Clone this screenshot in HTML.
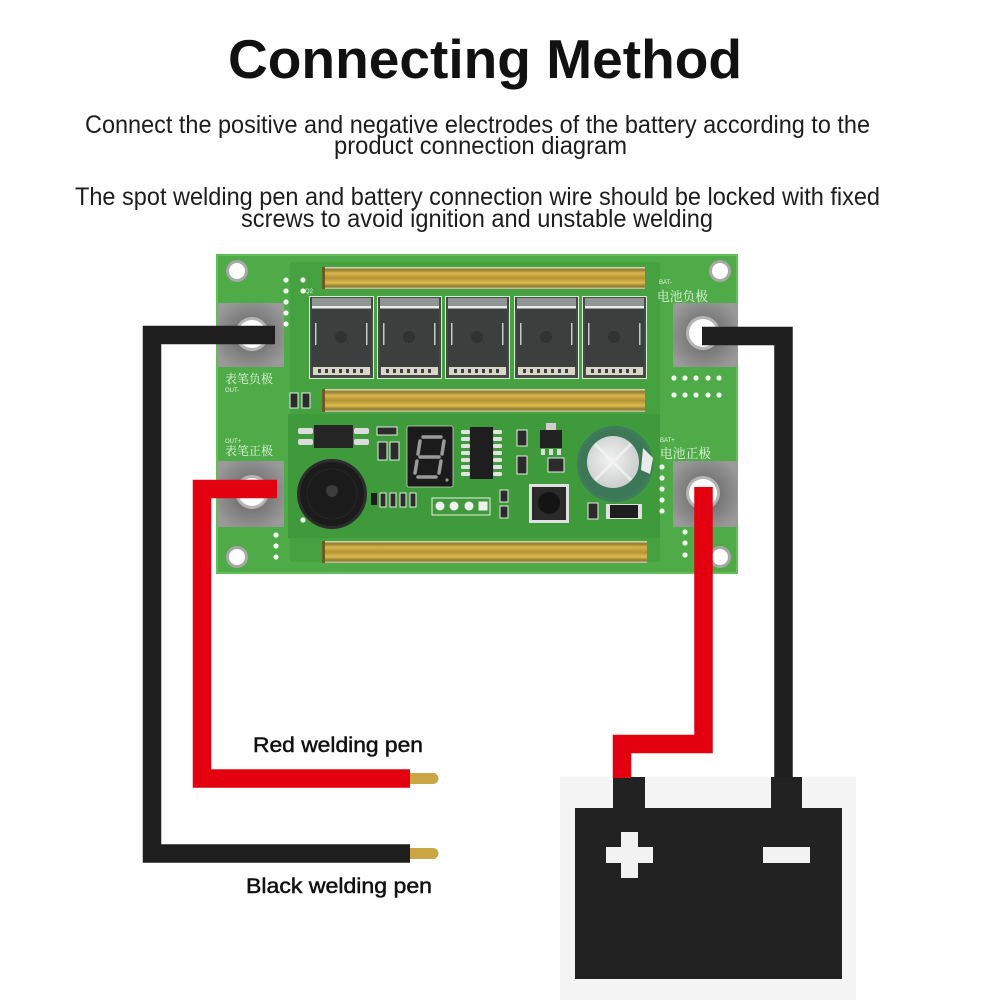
<!DOCTYPE html>
<html><head><meta charset="utf-8"><style>
html,body{margin:0;padding:0;background:#fff;}
svg{display:block;}
</style></head><body>
<svg width="1000" height="1000" viewBox="0 0 1000 1000" xmlns="http://www.w3.org/2000/svg">
<defs>
<linearGradient id="gold" x1="0" y1="0" x2="0" y2="1">
<stop offset="0" stop-color="#e9e4c6"/>
<stop offset="0.12" stop-color="#8e7a2e"/>
<stop offset="0.28" stop-color="#d8b64c"/>
<stop offset="0.5" stop-color="#b39334"/>
<stop offset="0.72" stop-color="#dcbb50"/>
<stop offset="0.88" stop-color="#8f7a2c"/>
<stop offset="1" stop-color="#cfcab0"/>
</linearGradient>
<radialGradient id="pad" cx="0.5" cy="0.5" r="0.6">
<stop offset="0" stop-color="#5a5a5a"/>
<stop offset="0.45" stop-color="#7a7a7a"/>
<stop offset="1" stop-color="#9a9a9a"/>
</radialGradient>
<radialGradient id="silver" cx="0.45" cy="0.45" r="0.6">
<stop offset="0" stop-color="#f2f2f2"/>
<stop offset="1" stop-color="#c9cbcb"/>
</radialGradient>
</defs>
<rect width="1000" height="1000" fill="#fff"/>

<!-- Title & text -->
<text x="228" y="78" font-family="Liberation Sans, sans-serif" font-weight="bold" font-size="55" textLength="514" lengthAdjust="spacingAndGlyphs" fill="#111">Connecting Method</text>
<g font-family="Liberation Sans, sans-serif" font-size="25" fill="#1d1d1d">
<text x="85" y="133" textLength="785" lengthAdjust="spacingAndGlyphs">Connect the positive and negative electrodes of the battery according to the</text>
<text x="334" y="154" textLength="293" lengthAdjust="spacingAndGlyphs">product connection diagram</text>
<text x="75" y="205" textLength="805" lengthAdjust="spacingAndGlyphs">The spot welding pen and battery connection wire should be locked with fixed</text>
<text x="241" y="227" textLength="472" lengthAdjust="spacingAndGlyphs">screws to avoid ignition and unstable welding</text>
</g>

<!-- Board -->
<rect x="217" y="255" width="520" height="318" fill="#4fab48"/>
<rect x="290" y="262" width="370" height="300" fill="#46a140"/>
<rect x="288" y="414" width="372" height="124" fill="#3f9a3b"/>
<rect x="217" y="255" width="520" height="318" fill="none" stroke="#63bd58" stroke-width="2"/>

<!-- corner holes -->
<g>
<circle cx="237" cy="271" r="11" fill="#a8a8a8"/><circle cx="237" cy="271" r="8" fill="#fff"/>
<circle cx="720" cy="271" r="11" fill="#a8a8a8"/><circle cx="720" cy="271" r="8" fill="#fff"/>
<circle cx="237" cy="557" r="11" fill="#a8a8a8"/><circle cx="237" cy="557" r="8" fill="#fff"/>
<circle cx="720" cy="557" r="11" fill="#a8a8a8"/><circle cx="720" cy="557" r="8" fill="#fff"/>
</g>

<!-- gold bars -->
<rect x="322" y="267" width="323" height="22" fill="url(#gold)"/>
<rect x="322" y="389" width="323" height="23" fill="url(#gold)"/>
<rect x="322" y="541" width="325" height="22" fill="url(#gold)"/>
<rect x="322" y="267" width="3" height="22" fill="#6a5c22"/>
<rect x="322" y="389" width="3" height="23" fill="#6a5c22"/>
<rect x="322" y="541" width="3" height="22" fill="#6a5c22"/>

<!-- MOSFETs -->
<g id="mos">
<g transform="translate(309,0)">
<rect x="0.5" y="296.5" width="64" height="82" fill="#454a47" stroke="#d8efd6" stroke-width="1"/>
<rect x="3" y="298" width="59" height="11" fill="#8f9592"/>
<rect x="3" y="306" width="59" height="2" fill="#ececec"/>
<rect x="3" y="309" width="59" height="58" fill="#3b3f3e"/>
<rect x="6" y="323" width="1.5" height="22" fill="#c8c8c8"/>
<rect x="57" y="323" width="1.5" height="22" fill="#c8c8c8"/>
<circle cx="32" cy="337" r="6" fill="#2f3332"/>
<rect x="4" y="367" width="57" height="8" fill="#d9d6c8"/>
<g fill="#3b3f3e"><rect x="9" y="369" width="3" height="4"/><rect x="16" y="369" width="3" height="4"/><rect x="23" y="369" width="3" height="4"/><rect x="30" y="369" width="3" height="4"/><rect x="37" y="369" width="3" height="4"/><rect x="44" y="369" width="3" height="4"/><rect x="51" y="369" width="3" height="4"/></g>
</g>
</g>
<use href="#mos" transform="translate(68,0)"/>
<use href="#mos" transform="translate(136,0)"/>
<use href="#mos" transform="translate(205,0)"/>
<use href="#mos" transform="translate(273,0)"/>

<!-- pads -->
<rect x="218" y="303" width="66" height="64" fill="url(#pad)"/>
<rect x="218" y="461" width="66" height="66" fill="url(#pad)"/>
<rect x="673" y="303" width="64" height="64" fill="url(#pad)"/>
<rect x="673" y="461" width="64" height="66" fill="url(#pad)"/>
<circle cx="252" cy="334" r="17" fill="#b5b5b5"/><circle cx="252" cy="334" r="14" fill="#fff"/>
<circle cx="252" cy="492" r="17" fill="#b5b5b5"/><circle cx="252" cy="492" r="14" fill="#fff"/>
<circle cx="703" cy="333" r="17" fill="#b5b5b5"/><circle cx="703" cy="333" r="14" fill="#fff"/>
<circle cx="703" cy="493" r="17" fill="#b5b5b5"/><circle cx="703" cy="493" r="14" fill="#fff"/>

<!-- labels -->
<g font-family="Liberation Serif, 'Noto Serif CJK SC', 'Noto Sans CJK SC', serif" fill="#e4f4de">
<text x="225" y="383" font-size="12" textLength="48" lengthAdjust="spacingAndGlyphs">表笔负极</text>
<text x="225" y="455" font-size="12" textLength="48" lengthAdjust="spacingAndGlyphs">表笔正极</text>
<text x="657" y="301" font-size="13" textLength="51" lengthAdjust="spacingAndGlyphs">电池负极</text>
<text x="660" y="458" font-size="13" textLength="51" lengthAdjust="spacingAndGlyphs">电池正极</text>
</g>
<g font-family="Liberation Sans, sans-serif" font-size="6" fill="#e4f4de">
<text x="225" y="392">OUT-</text>
<text x="225" y="443">OUT+</text>
<text x="659" y="284">BAT-</text>
<text x="660" y="442">BAT+</text>
<text x="305" y="293">Q2</text>
</g>

<!-- white dots -->
<g fill="#f4f8f2">
<circle cx="286" cy="280" r="2.6"/><circle cx="286" cy="291" r="2.6"/><circle cx="286" cy="302" r="2.6"/><circle cx="286" cy="313" r="2.6"/><circle cx="286" cy="324" r="2.6"/>
<circle cx="303" cy="280" r="2.6"/><circle cx="303" cy="291" r="2.6"/>
<circle cx="674" cy="378" r="2.6"/><circle cx="685" cy="378" r="2.6"/><circle cx="696" cy="378" r="2.6"/><circle cx="708" cy="378" r="2.6"/><circle cx="719" cy="378" r="2.6"/>
<circle cx="674" cy="395" r="2.6"/><circle cx="685" cy="395" r="2.6"/><circle cx="696" cy="395" r="2.6"/><circle cx="708" cy="395" r="2.6"/><circle cx="719" cy="395" r="2.6"/>
<circle cx="662" cy="467" r="2.6"/><circle cx="662" cy="478" r="2.6"/><circle cx="662" cy="489" r="2.6"/><circle cx="662" cy="500" r="2.6"/><circle cx="662" cy="511" r="2.6"/>
<circle cx="685" cy="532" r="2.6"/><circle cx="685" cy="543" r="2.6"/><circle cx="685" cy="555" r="2.6"/>
<circle cx="276" cy="535" r="2.6"/><circle cx="276" cy="546" r="2.6"/><circle cx="276" cy="557" r="2.6"/>
<circle cx="303" cy="520" r="2.6"/>
</g>

<!-- small SMD parts -->
<g fill="#2b2b2b" stroke="#e6efe4" stroke-width="1">
<rect x="290" y="393" width="8" height="15"/><rect x="302" y="393" width="8" height="15"/>
<rect x="377" y="427" width="20" height="8"/>
<rect x="378" y="442" width="9" height="18"/><rect x="390" y="442" width="9" height="18"/>
<rect x="517" y="430" width="10" height="16"/>
<rect x="517" y="456" width="10" height="18"/><rect x="548" y="458" width="16" height="14"/>
<rect x="588" y="503" width="10" height="16"/>
<rect x="500" y="490" width="8" height="12"/><rect x="500" y="506" width="8" height="12"/>
<rect x="380" y="493" width="6" height="14"/><rect x="390" y="493" width="6" height="14"/><rect x="400" y="493" width="6" height="14"/><rect x="410" y="493" width="6" height="14"/>
</g>
<rect x="371" y="493" width="6" height="12" fill="#1c1c1c"/>

<!-- optocoupler -->
<g fill="#dcdcdc">
<rect x="298" y="428" width="15" height="6" rx="2"/><rect x="298" y="439" width="15" height="6" rx="2"/>
<rect x="354" y="428" width="15" height="6" rx="2"/><rect x="354" y="439" width="15" height="6" rx="2"/>
</g>
<rect x="314" y="425" width="39" height="23" fill="#262626"/>

<!-- buzzer -->
<circle cx="332" cy="494" r="35" fill="#2c2c2c"/>
<circle cx="332" cy="494" r="32" fill="#1b1b1b"/>
<circle cx="332" cy="494" r="25" fill="none" stroke="#262626" stroke-width="1"/>
<circle cx="332" cy="491" r="6" fill="#3c3c3c"/>

<!-- 7 segment -->
<rect x="407" y="426" width="46" height="61" rx="2" fill="#1b1b1b" stroke="#c9d9c6" stroke-width="0.8"/>
<g stroke="#9a9a9a" stroke-width="3.5" stroke-linecap="round" fill="none">
<path d="M423 437 L441 437"/>
<path d="M420 441 L418 454"/>
<path d="M444 441 L442 454"/>
<path d="M420 457 L439 457"/>
<path d="M417 461 L415 473"/>
<path d="M441 461 L439 473"/>
<path d="M418 477 L436 477"/>
</g>
<circle cx="447" cy="480" r="1.6" fill="#9a9a9a"/>

<!-- U2 IC -->
<g fill="#e2e2e2">
<rect x="461" y="430" width="9" height="4" rx="1.5"/><rect x="461" y="437" width="9" height="4" rx="1.5"/><rect x="461" y="444" width="9" height="4" rx="1.5"/><rect x="461" y="451" width="9" height="4" rx="1.5"/><rect x="461" y="458" width="9" height="4" rx="1.5"/><rect x="461" y="465" width="9" height="4" rx="1.5"/><rect x="461" y="472" width="9" height="4" rx="1.5"/>
<rect x="493" y="430" width="9" height="4" rx="1.5"/><rect x="493" y="437" width="9" height="4" rx="1.5"/><rect x="493" y="444" width="9" height="4" rx="1.5"/><rect x="493" y="451" width="9" height="4" rx="1.5"/><rect x="493" y="458" width="9" height="4" rx="1.5"/><rect x="493" y="465" width="9" height="4" rx="1.5"/><rect x="493" y="472" width="9" height="4" rx="1.5"/>
</g>
<rect x="470" y="427" width="23" height="52" fill="#1e1e1e"/>

<!-- header -->
<rect x="432" y="498" width="58" height="17" fill="none" stroke="#e8f0e6" stroke-width="1"/>
<g fill="#f0f0f0"><circle cx="440" cy="506" r="4.5"/><circle cx="454" cy="506" r="4.5"/><circle cx="469" cy="506" r="4.5"/><rect x="478.5" y="501.5" width="9" height="9"/></g>

<!-- transistor -->
<rect x="546" y="423" width="10" height="7" fill="#cfcfcf"/>
<rect x="540" y="430" width="22" height="18" fill="#222"/>
<g fill="#dcdcdc"><rect x="541" y="449" width="4" height="6"/><rect x="549" y="449" width="4" height="6"/><rect x="557" y="449" width="4" height="6"/></g>

<!-- button -->
<rect x="529" y="484" width="40" height="39" fill="#e0e0e0"/>
<rect x="532" y="487" width="34" height="33" fill="#2a2a2a"/>
<circle cx="549" cy="503" r="11" fill="#141414"/>

<!-- capacitor -->
<circle cx="615" cy="464" r="38" fill="#3f7c5d"/>
<circle cx="615" cy="464" r="35" fill="#3c7758"/>
<circle cx="613" cy="462" r="26" fill="url(#silver)"/>
<path d="M595 444 L631 480 M631 444 L595 480" stroke="#f6f6f6" stroke-width="3" opacity="0.7"/>
<path d="M643 448 L653 458 L650 474 L641 470 Z" fill="#e8ece8"/>

<!-- diode -->
<rect x="606" y="504" width="36" height="15" fill="#e0e0e0"/>
<rect x="610" y="505" width="28" height="13" fill="#1e1e1e"/>

<!-- Wires: left black -->
<path d="M275 335 L152 335 L152 853.5 L410 853.5" fill="none" stroke="#1e1e1e" stroke-width="18.5" stroke-linejoin="miter"/>
<!-- left red -->
<path d="M277 489 L202 489 L202 778.5 L410 778.5" fill="none" stroke="#e3000f" stroke-width="18.5" stroke-linejoin="miter"/>
<!-- pen tips -->
<path d="M410 773 L433 773 A5.5 5.5 0 0 1 433 784 L410 784 Z" fill="#c9a544"/>
<path d="M410 848 L433 848 A5.5 5.5 0 0 1 433 859 L410 859 Z" fill="#c9a544"/>

<!-- labels -->
<g font-family="Liberation Sans, sans-serif" font-size="21" fill="#111" stroke="#111" stroke-width="0.5">
<text x="253" y="752" textLength="170" lengthAdjust="spacingAndGlyphs">Red welding pen</text>
<text x="246" y="893" textLength="186" lengthAdjust="spacingAndGlyphs">Black welding pen</text>
</g>

<!-- Battery -->
<rect x="560" y="777" width="296" height="223" fill="#f4f4f4"/>
<rect x="575" y="808" width="267" height="171" fill="#222"/>
<rect x="613" y="777" width="32" height="32" fill="#222"/>
<rect x="771" y="777" width="31" height="32" fill="#222"/>
<rect x="606" y="847" width="47" height="16" fill="#f2f2f2"/>
<rect x="621" y="832" width="17" height="46" fill="#f2f2f2"/>
<rect x="763" y="847" width="47" height="16" fill="#f2f2f2"/>

<!-- right wires -->
<path d="M702 336 L783.5 336 L783.5 778" fill="none" stroke="#1e1e1e" stroke-width="18.5" stroke-linejoin="miter"/>
<path d="M703.5 487 L703.5 744 L622 744 L622 778" fill="none" stroke="#e3000f" stroke-width="18.5" stroke-linejoin="miter"/>
</svg>
</body></html>
